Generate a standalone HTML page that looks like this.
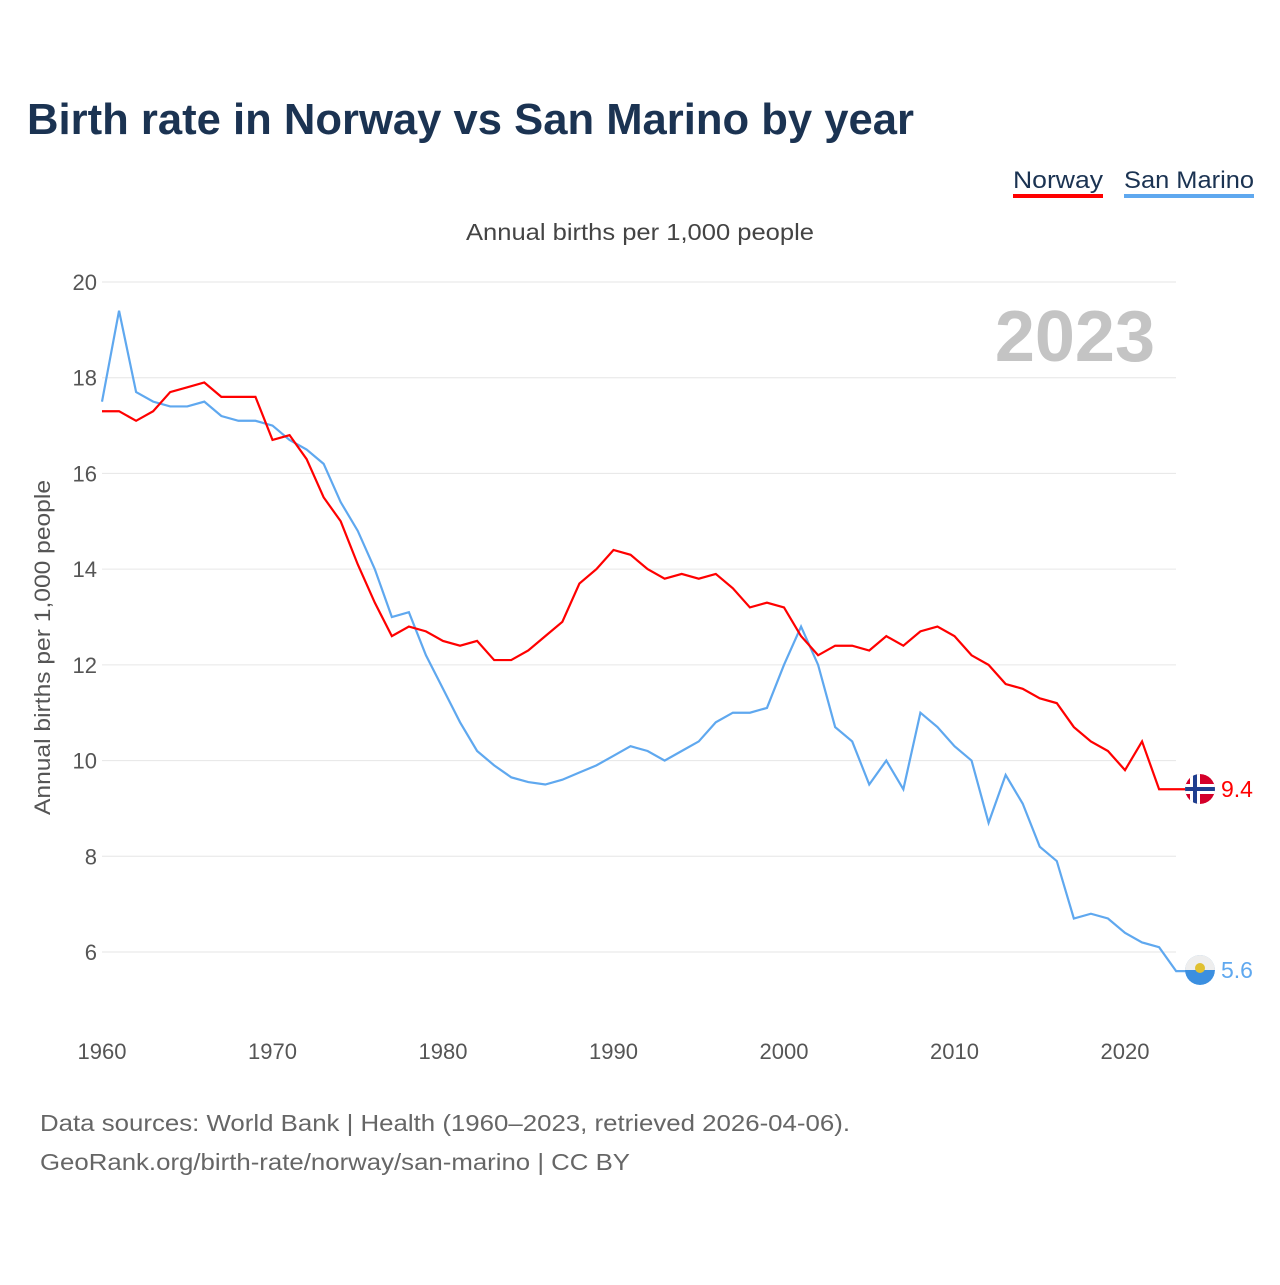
<!DOCTYPE html>
<html><head><meta charset="utf-8"><style>
body{margin:0;background:#fff;font-family:"Liberation Sans",sans-serif;}
</style></head><body>
<svg id="s" width="1280" height="1280" xmlns="http://www.w3.org/2000/svg" font-family="Liberation Sans, sans-serif">
<defs><clipPath id="c1"><circle cx="1200" cy="789" r="15"/></clipPath><clipPath id="c2"><circle cx="1200" cy="970" r="15"/></clipPath></defs>
<rect width="1280" height="1280" fill="#fff"/>
<text x="27" y="134" font-size="44" font-weight="bold" fill="#1b3352" textLength="887" lengthAdjust="spacingAndGlyphs">Birth rate in Norway vs San Marino by year</text>
<text x="1013" y="188" font-size="24" fill="#1b3352" textLength="90" lengthAdjust="spacingAndGlyphs">Norway</text>
<rect x="1013" y="194" width="90" height="4" fill="#ff0000"/>
<text x="1124" y="188" font-size="24" fill="#1b3352" textLength="130" lengthAdjust="spacingAndGlyphs">San Marino</text>
<rect x="1124" y="194" width="130" height="4" fill="#5fa8ef"/>
<text x="466" y="240" font-size="23" fill="#444" textLength="348" lengthAdjust="spacingAndGlyphs">Annual births per 1,000 people</text>
<text x="0" y="0" font-size="22" fill="#555" transform="translate(50 815) rotate(-90)" textLength="335" lengthAdjust="spacingAndGlyphs">Annual births per 1,000 people</text>
<g id="grid"></g>
<text x="1155" y="361" font-size="72" font-weight="bold" fill="#c4c4c4" text-anchor="end">2023</text>
<polyline id="sm" fill="none" stroke="#5fa8ef" stroke-width="2.2"/>
<polyline id="no" fill="none" stroke="#ff0000" stroke-width="2.2"/>
<g clip-path="url(#c1)">
<circle cx="1200" cy="789" r="15" fill="#d4002a"/>
<rect x="1185" y="784" width="30" height="10" fill="#fff"/>
<rect x="1190" y="774" width="10" height="30" fill="#fff"/>
<rect x="1185" y="787" width="30" height="4" fill="#1f3f8f"/>
<rect x="1193" y="774" width="4" height="30" fill="#1f3f8f"/>
</g>
<text x="1221" y="797" font-size="23" fill="#ff0000">9.4</text>
<g clip-path="url(#c2)">
<circle cx="1200" cy="970" r="15" fill="#3b8fe0"/>
<rect x="1185" y="955" width="30" height="15" fill="#eee"/>
<circle cx="1200" cy="968" r="5" fill="#e0c030"/>
</g>
<text x="1221" y="978" font-size="23" fill="#5fa8ef">5.6</text>
<text x="40" y="1131" font-size="23" fill="#666" textLength="810" lengthAdjust="spacingAndGlyphs">Data sources: World Bank | Health (1960–2023, retrieved 2026-04-06).</text>
<text x="40" y="1170" font-size="23" fill="#666" textLength="590" lengthAdjust="spacingAndGlyphs">GeoRank.org/birth-rate/norway/san-marino | CC BY</text>
</svg>
<script>
var X=function(y){return 102+(y-1960)*17.05},Y=function(v){return 282+(20-v)*47.857};
var g=document.getElementById('grid'),h='';
for(var v=6;v<=20;v+=2){h+='<line x1="102" x2="1176" y1="'+Y(v)+'" y2="'+Y(v)+'" stroke="#e6e6e6"/><text x="97" y="'+(Y(v)+8)+'" font-size="22" fill="#555" text-anchor="end">'+v+'</text>';}
for(var y=1960;y<=2020;y+=10){h+='<text x="'+X(y)+'" y="1059" font-size="22" fill="#555" text-anchor="middle">'+y+'</text>';}
g.innerHTML=h;
var no=[17.3,17.3,17.1,17.3,17.7,17.8,17.9,17.6,17.6,17.6,16.7,16.8,16.3,15.5,15.0,14.1,13.3,12.6,12.8,12.7,12.5,12.4,12.5,12.1,12.1,12.3,12.6,12.9,13.7,14.0,14.4,14.3,14.0,13.8,13.9,13.8,13.9,13.6,13.2,13.3,13.2,12.6,12.2,12.4,12.4,12.3,12.6,12.4,12.7,12.8,12.6,12.2,12.0,11.6,11.5,11.3,11.2,10.7,10.4,10.2,9.8,10.4,9.4,9.4];
var sm=[17.5,19.4,17.7,17.5,17.4,17.4,17.5,17.2,17.1,17.1,17.0,16.7,16.5,16.2,15.4,14.8,14.0,13.0,13.1,12.2,11.5,10.8,10.2,9.9,9.65,9.55,9.5,9.6,9.75,9.9,10.1,10.3,10.2,10.0,10.2,10.4,10.8,11.0,11.0,11.1,12.0,12.8,12.0,10.7,10.4,9.5,10.0,9.4,11.0,10.7,10.3,10.0,8.7,9.7,9.1,8.2,7.9,6.7,6.8,6.7,6.4,6.2,6.1,5.6];
function pts(a){return a.map(function(v,i){return X(1960+i)+','+Y(v)}).join(' ')+' 1190,'+Y(a[a.length-1]);}
document.getElementById('no').setAttribute('points',pts(no));
document.getElementById('sm').setAttribute('points',pts(sm));
</script>
</body></html>
